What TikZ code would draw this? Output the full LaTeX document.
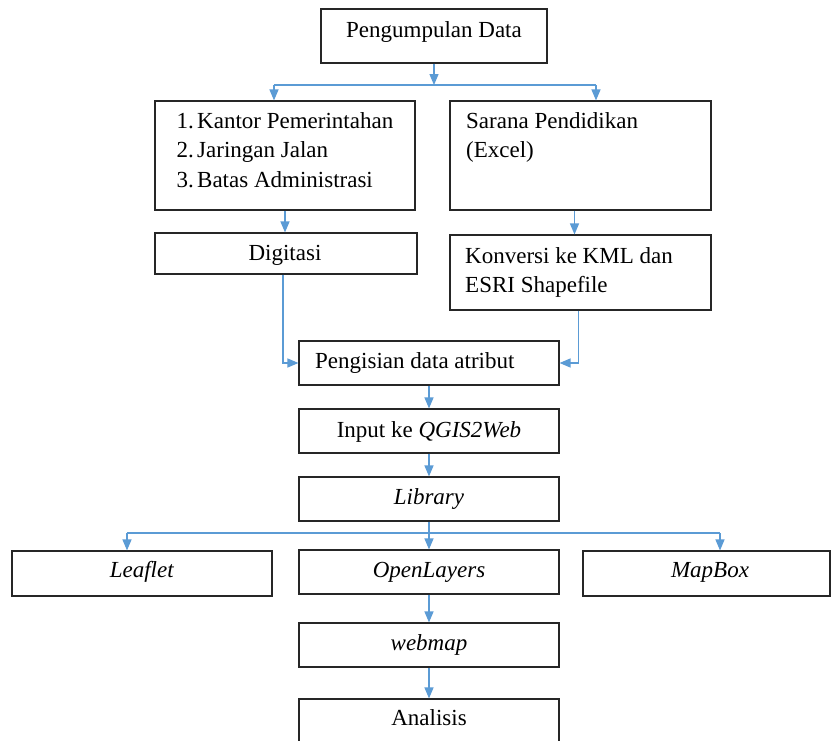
\documentclass[tikz,border=0pt]{standalone}
\usepackage{fontspec}
\setmainfont{Liberation Serif}
\usetikzlibrary{arrows.meta,fit,calc}
\definecolor{linkblue}{HTML}{5B9BD5}
\begin{document}
\begin{tikzpicture}[x=1pt,y=-1pt,
  box/.style={draw=black!85,line width=1.1pt,rectangle,inner sep=0pt},
  link/.style={draw=linkblue,line width=1.3pt},
  arr/.style={link,-{Triangle[length=11pt,width=9pt]}},
  txt/.style={inner sep=0pt,font=\fontsize{23}{28}\selectfont},
]
\useasboundingbox (0,0) rectangle (832,740);
\fill[white] (0,0) rectangle (832,740);

% boxes
\node[box,fit={(321,9) (547,63)}] (pd) {};
\node[box,fit={(155,101) (415,210)}] (b1) {};
\node[box,fit={(450,101) (711,210)}] (b2) {};
\node[box,fit={(155,233) (417,274)}] (dg) {};
\node[box,fit={(450,235) (711,310)}] (kv) {};
\node[box,fit={(299,341) (559,385)}] (pa) {};
\node[box,fit={(299,409) (559,453)}] (in) {};
\node[box,fit={(299,477) (559,521)}] (lb) {};
\node[box,fit={(12,551) (272,596)}] (lf) {};
\node[box,fit={(299,550) (559,594)}] (ol) {};
\node[box,fit={(583,551) (830,596)}] (mb) {};
\node[box,fit={(299,623) (559,667)}] (wm) {};
\node[box,fit={(299,699) (559,750)}] (an) {};

% texts
\node[txt,anchor=base] (tpd) at (434,37) {Pengumpulan Data};
\node[txt,anchor=base west] (tb1a) at (176.5,128) {\makebox[20.5pt][l]{1.}Kantor Pemerintahan};
\node[txt,anchor=base west] (tb1b) at (176.5,157.5) {\makebox[20.5pt][l]{2.}Jaringan Jalan};
\node[txt,anchor=base west] (tb1c) at (176.5,187) {\makebox[20.5pt][l]{3.}Batas Administrasi};
\node[txt,anchor=base west] (tb2a) at (466,128) {Sarana Pendidikan};
\node[txt,anchor=base west] (tb2b) at (466,157.5) {(Excel)};
\node[txt,anchor=base] (tdg) at (285,260) {Digitasi};
\node[txt,anchor=base west] (tkva) at (465,263) {Konversi ke KML dan};
\node[txt,anchor=base west] (tkvb) at (465,292) {ESRI Shapefile};
\node[txt,anchor=base west] (tpa) at (315,368) {Pengisian data atribut};
\node[txt,anchor=base] (tin) at (429,437) {Input ke \textit{QGIS2Web}};
\node[txt,anchor=base] (tlb) at (429,504) {\textit{Library}};
\node[txt,anchor=base] (tlf) at (142,577) {\textit{Leaflet}};
\node[txt,anchor=base] (tol) at (429,577) {\textit{OpenLayers}};
\node[txt,anchor=base] (tmb) at (710,577) {\textit{MapBox}};
\node[txt,anchor=base] (twm) at (429,650) {\textit{webmap}};
\node[txt,anchor=base] (tan) at (429,725) {Analisis};

% connectors
\coordinate (j1) at (434,85);
\coordinate (jl) at (274,85);
\coordinate (jr) at (596,85);
\draw[arr] (pd.south) -- (j1);
\draw[link] (jl) -- (jr);
\draw[arr] (jl) -- (jl |- b1.north);
\draw[arr] (jr) -- (jr |- b2.north);
\draw[arr] (b1.south) -- (b1.south |- dg.north);
\coordinate (b2s) at ($(b2.south)+(-6,0)$);
\draw[arr] (b2s) -- (b2s |- kv.north);
\coordinate (dgs) at ($(dg.south)+(-3,0)$);
\draw[arr] (dgs) |- (pa.west);
\coordinate (kvs) at ($(kv.south)+(-2,0)$);
\draw[arr] (kvs) |- (pa.east);
\draw[arr] (pa.south) -- (in.north);
\draw[arr] (in.south) -- (lb.north);
\coordinate (k1) at (429,533);
\coordinate (kl) at (127,533);
\coordinate (kr) at (720,533);
\draw[link] (kl) -- (kr);
\draw[arr] (lb.south) -- (ol.north);
\draw[arr] (kl) -- (kl |- lf.north);
\draw[arr] (kr) -- (kr |- mb.north);
\draw[arr] (ol.south) -- (wm.north);
\draw[arr] (wm.south) -- (an.north);
\end{tikzpicture}
\end{document}
